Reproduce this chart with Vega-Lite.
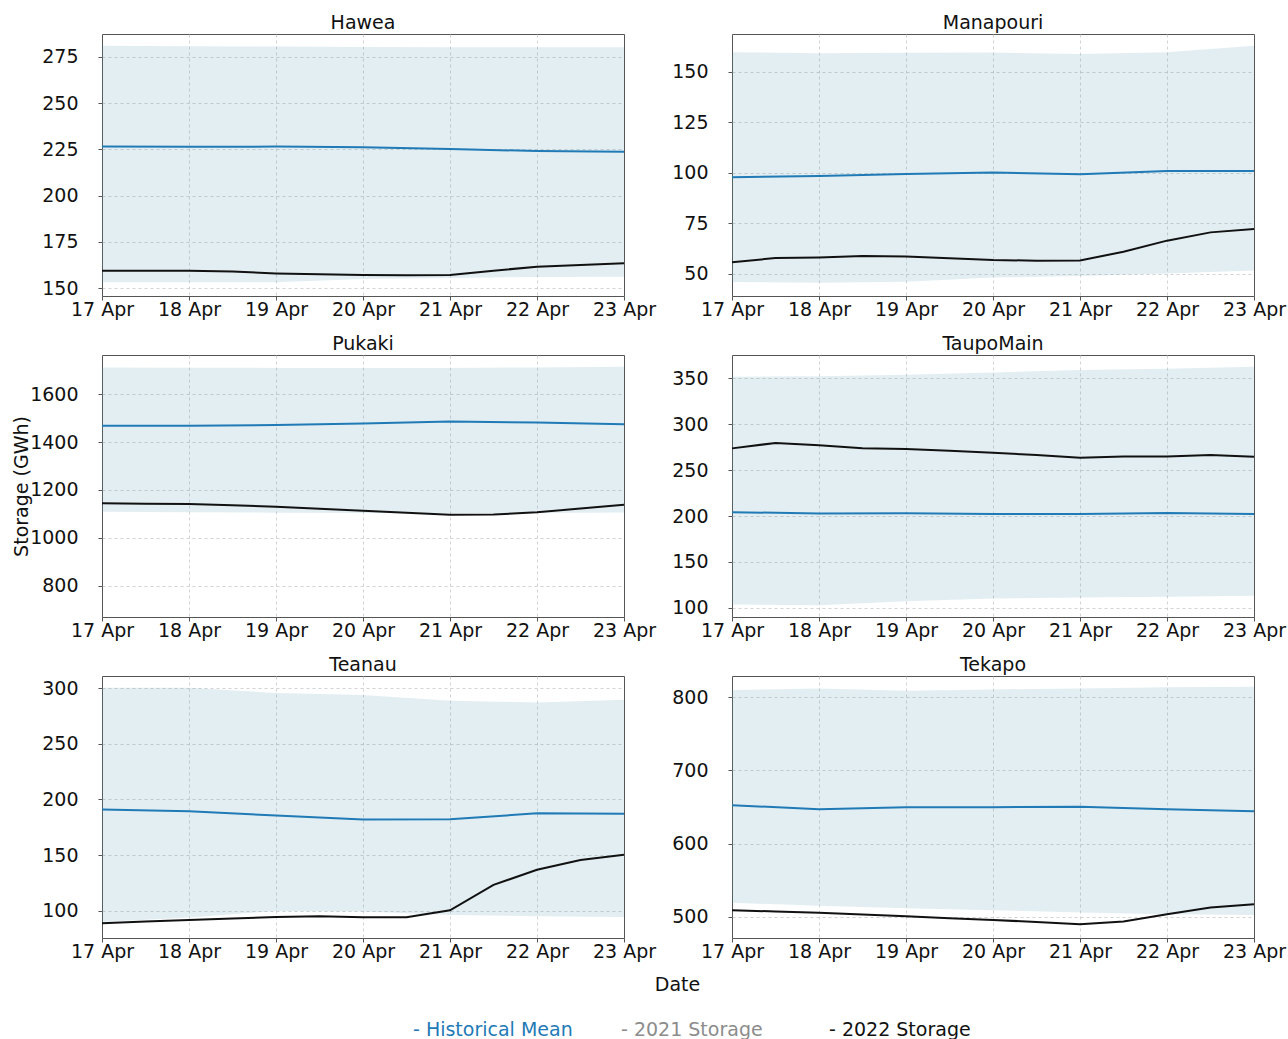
{
  "$schema": "https://vega.github.io/schema/vega-lite/v6.json",
  "padding": {"left": 11, "top": 13, "right": 0, "bottom": 0},
  "background": "white",
  "config": {
    "font": "DejaVu Sans",
    "view": {"stroke": "#555555", "strokeWidth": 1},
    "axis": {"labelFont": "DejaVu Sans", "labelFontSize": 19, "labelColor": "#111111", "tickColor": "#555555", "tickSize": 4, "domain": false, "grid": true, "gridColor": "#c8c8c8", "gridDash": [3, 3], "gridWidth": 0.8, "titleFont": "DejaVu Sans", "titleFontSize": 19, "titleFontWeight": "normal", "titleColor": "#111111", "labelFlush": false, "labelOverlap": false},
    "axisX": {"format": "%d %b", "tickCount": {"interval": "day", "step": 1}, "labelPadding": 0},
    "axisY": {"format": "d", "labelPadding": 20},
    "title": {"font": "DejaVu Sans", "fontSize": 19, "fontWeight": "normal", "color": "#111111", "baseline": "alphabetic", "offset": 1}
  },
  "data": {"values": [
    {"r": "Hawea", "date": "2022-04-17T00:00", "lo": 153.1, "mean": 226.5, "hi": 281.0, "s": 159.4},
    {"r": "Hawea", "date": "2022-04-17T12:00", "s": 159.4},
    {"r": "Hawea", "date": "2022-04-18T00:00", "lo": 153.1, "mean": 226.4, "hi": 280.8, "s": 159.4},
    {"r": "Hawea", "date": "2022-04-18T12:00", "s": 158.9},
    {"r": "Hawea", "date": "2022-04-19T00:00", "lo": 153.2, "mean": 226.5, "hi": 280.6, "s": 157.9},
    {"r": "Hawea", "date": "2022-04-19T12:00", "s": 157.4},
    {"r": "Hawea", "date": "2022-04-20T00:00", "lo": 154.9, "mean": 226.1, "hi": 280.4, "s": 157.0},
    {"r": "Hawea", "date": "2022-04-20T12:00", "s": 156.9},
    {"r": "Hawea", "date": "2022-04-21T00:00", "lo": 155.5, "mean": 225.2, "hi": 280.3, "s": 157.0},
    {"r": "Hawea", "date": "2022-04-21T12:00", "s": 159.4},
    {"r": "Hawea", "date": "2022-04-22T00:00", "lo": 156.0, "mean": 224.1, "hi": 280.2, "s": 161.5},
    {"r": "Hawea", "date": "2022-04-22T12:00", "s": 162.5},
    {"r": "Hawea", "date": "2022-04-23T00:00", "lo": 156.1, "mean": 223.7, "hi": 280.2, "s": 163.4},

    {"r": "Manapouri", "date": "2022-04-17T00:00", "lo": 46.0, "mean": 97.9, "hi": 159.8, "s": 55.8},
    {"r": "Manapouri", "date": "2022-04-17T12:00", "s": 57.9},
    {"r": "Manapouri", "date": "2022-04-18T00:00", "lo": 45.7, "mean": 98.5, "hi": 159.3, "s": 58.2},
    {"r": "Manapouri", "date": "2022-04-18T12:00", "s": 58.9},
    {"r": "Manapouri", "date": "2022-04-19T00:00", "lo": 46.2, "mean": 99.5, "hi": 159.5, "s": 58.7},
    {"r": "Manapouri", "date": "2022-04-19T12:00", "s": 57.8},
    {"r": "Manapouri", "date": "2022-04-20T00:00", "lo": 48.2, "mean": 100.2, "hi": 159.6, "s": 56.9},
    {"r": "Manapouri", "date": "2022-04-20T12:00", "s": 56.6},
    {"r": "Manapouri", "date": "2022-04-21T00:00", "lo": 49.0, "mean": 99.4, "hi": 158.9, "s": 56.7},
    {"r": "Manapouri", "date": "2022-04-21T12:00", "s": 61.0},
    {"r": "Manapouri", "date": "2022-04-22T00:00", "lo": 50.3, "mean": 101.0, "hi": 159.8, "s": 66.5},
    {"r": "Manapouri", "date": "2022-04-22T12:00", "s": 70.6},
    {"r": "Manapouri", "date": "2022-04-23T00:00", "lo": 51.7, "mean": 101.0, "hi": 163.0, "s": 72.3},

    {"r": "Pukaki", "date": "2022-04-17T00:00", "lo": 1109, "mean": 1468, "hi": 1712, "s": 1144},
    {"r": "Pukaki", "date": "2022-04-17T12:00", "s": 1142},
    {"r": "Pukaki", "date": "2022-04-18T00:00", "lo": 1107, "mean": 1468, "hi": 1711, "s": 1141},
    {"r": "Pukaki", "date": "2022-04-18T12:00", "s": 1136},
    {"r": "Pukaki", "date": "2022-04-19T00:00", "lo": 1105, "mean": 1471, "hi": 1710, "s": 1130},
    {"r": "Pukaki", "date": "2022-04-19T12:00", "s": 1121},
    {"r": "Pukaki", "date": "2022-04-20T00:00", "lo": 1104, "mean": 1478, "hi": 1710, "s": 1113},
    {"r": "Pukaki", "date": "2022-04-20T12:00", "s": 1105},
    {"r": "Pukaki", "date": "2022-04-21T00:00", "lo": 1103, "mean": 1486, "hi": 1710, "s": 1096},
    {"r": "Pukaki", "date": "2022-04-21T12:00", "s": 1097},
    {"r": "Pukaki", "date": "2022-04-22T00:00", "lo": 1104, "mean": 1482, "hi": 1712, "s": 1107},
    {"r": "Pukaki", "date": "2022-04-22T12:00", "s": 1122},
    {"r": "Pukaki", "date": "2022-04-23T00:00", "lo": 1106, "mean": 1475, "hi": 1715, "s": 1138},

    {"r": "TaupoMain", "date": "2022-04-17T00:00", "lo": 103.6, "mean": 204.2, "hi": 351.4, "s": 273.6},
    {"r": "TaupoMain", "date": "2022-04-17T12:00", "s": 279.5},
    {"r": "TaupoMain", "date": "2022-04-18T00:00", "lo": 102.9, "mean": 202.7, "hi": 352.2, "s": 276.9},
    {"r": "TaupoMain", "date": "2022-04-18T12:00", "s": 273.6},
    {"r": "TaupoMain", "date": "2022-04-19T00:00", "lo": 107.3, "mean": 202.9, "hi": 353.6, "s": 272.9},
    {"r": "TaupoMain", "date": "2022-04-19T12:00", "s": 271.1},
    {"r": "TaupoMain", "date": "2022-04-20T00:00", "lo": 110.2, "mean": 202.3, "hi": 356.2, "s": 268.9},
    {"r": "TaupoMain", "date": "2022-04-20T12:00", "s": 266.3},
    {"r": "TaupoMain", "date": "2022-04-21T00:00", "lo": 111.3, "mean": 202.3, "hi": 358.8, "s": 263.4},
    {"r": "TaupoMain", "date": "2022-04-21T12:00", "s": 264.8},
    {"r": "TaupoMain", "date": "2022-04-22T00:00", "lo": 112.1, "mean": 203.4, "hi": 360.2, "s": 264.8},
    {"r": "TaupoMain", "date": "2022-04-22T12:00", "s": 266.3},
    {"r": "TaupoMain", "date": "2022-04-23T00:00", "lo": 113.2, "mean": 202.3, "hi": 362.4, "s": 264.4},

    {"r": "Teanau", "date": "2022-04-17T00:00", "lo": 90.1, "mean": 191.0, "hi": 300.3, "s": 88.9},
    {"r": "Teanau", "date": "2022-04-17T12:00", "s": 90.4},
    {"r": "Teanau", "date": "2022-04-18T00:00", "lo": 94.0, "mean": 189.5, "hi": 300.3, "s": 91.9},
    {"r": "Teanau", "date": "2022-04-18T12:00", "s": 93.1},
    {"r": "Teanau", "date": "2022-04-19T00:00", "lo": 100.0, "mean": 185.6, "hi": 295.5, "s": 94.6},
    {"r": "Teanau", "date": "2022-04-19T12:00", "s": 95.2},
    {"r": "Teanau", "date": "2022-04-20T00:00", "lo": 99.4, "mean": 182.0, "hi": 293.7, "s": 94.3},
    {"r": "Teanau", "date": "2022-04-20T12:00", "s": 94.3},
    {"r": "Teanau", "date": "2022-04-21T00:00", "lo": 96.4, "mean": 182.3, "hi": 288.6, "s": 100.6},
    {"r": "Teanau", "date": "2022-04-21T12:00", "s": 123.4},
    {"r": "Teanau", "date": "2022-04-22T00:00", "lo": 95.2, "mean": 187.6, "hi": 287.1, "s": 136.9},
    {"r": "Teanau", "date": "2022-04-22T12:00", "s": 145.6},
    {"r": "Teanau", "date": "2022-04-23T00:00", "lo": 94.6, "mean": 187.1, "hi": 289.5, "s": 150.5},

    {"r": "Tekapo", "date": "2022-04-17T00:00", "lo": 519.2, "mean": 652.5, "hi": 809.6, "s": 509.2},
    {"r": "Tekapo", "date": "2022-04-17T12:00", "s": 507.3},
    {"r": "Tekapo", "date": "2022-04-18T00:00", "lo": 515.1, "mean": 647.0, "hi": 811.9, "s": 505.5},
    {"r": "Tekapo", "date": "2022-04-18T12:00", "s": 503.2},
    {"r": "Tekapo", "date": "2022-04-19T00:00", "lo": 511.9, "mean": 649.7, "hi": 808.6, "s": 501.0},
    {"r": "Tekapo", "date": "2022-04-19T12:00", "s": 498.1},
    {"r": "Tekapo", "date": "2022-04-20T00:00", "lo": 509.2, "mean": 649.7, "hi": 810.5, "s": 495.9},
    {"r": "Tekapo", "date": "2022-04-20T12:00", "s": 493.0},
    {"r": "Tekapo", "date": "2022-04-21T00:00", "lo": 505.9, "mean": 650.3, "hi": 811.9, "s": 490.0},
    {"r": "Tekapo", "date": "2022-04-21T12:00", "s": 493.6},
    {"r": "Tekapo", "date": "2022-04-22T00:00", "lo": 503.7, "mean": 647.0, "hi": 813.3, "s": 503.7},
    {"r": "Tekapo", "date": "2022-04-22T12:00", "s": 512.7},
    {"r": "Tekapo", "date": "2022-04-23T00:00", "lo": 502.7, "mean": 644.3, "hi": 814.1, "s": 517.4}
  ]},
  "columns": 2,
  "spacing": {"row": 59, "column": 108},
  "bounds": "flush",
  "concat": [
    {"title": "Hawea", "width": 522, "height": 262,
     "transform": [{"filter": "datum.r === 'Hawea'"}],
     "encoding": {"x": {"field": "date", "type": "temporal", "title": null, "scale": {"domain": [{"year": 2022, "month": 4, "date": 17}, {"year": 2022, "month": 4, "date": 23}]}, "axis": {"gridColor": {"condition": {"test": "datum.value <= datetime(2022, 3, 17) || datum.value >= datetime(2022, 3, 23)", "value": "transparent"}, "value": "#c8c8c8"}}}},
     "layer": [
       {"transform": [{"filter": "isValid(datum.lo)"}], "mark": {"type": "area", "color": "#5a9bb3", "opacity": 0.17}, "encoding": {"y": {"field": "lo", "type": "quantitative", "title": null, "scale": {"domain": [145.7, 287.4], "nice": false, "zero": false}, "axis": {"values": [150, 175, 200, 225, 250, 275]}}, "y2": {"field": "hi"}}},
       {"transform": [{"filter": "isValid(datum.mean)"}], "mark": {"type": "line", "strokeWidth": 2}, "encoding": {"y": {"field": "mean", "type": "quantitative", "title": null}, "color": {"datum": "Historical Mean", "type": "nominal", "scale": {"domain": ["Historical Mean", "2021 Storage", "2022 Storage"], "range": ["#1f7ab6", "#8c8c8c", "#111111"]}, "legend": {"title": null, "orient": "none", "legendX": 292, "legendY": 986, "direction": "horizontal", "columns": 3, "gridAlign": "all", "columnPadding": 29, "symbolSize": 0, "symbolStrokeWidth": 0, "symbolOpacity": 0, "labelOffset": 0, "labelFont": "DejaVu Sans", "labelFontSize": 19, "labelLimit": 400, "labelExpr": "'- ' + datum.label", "encode": {"labels": {"update": {"fill": {"scale": "color", "field": "value"}}}}}}}},
       {"transform": [{"filter": "isValid(datum.s)"}], "mark": {"type": "line", "strokeWidth": 2}, "encoding": {"y": {"field": "s", "type": "quantitative", "title": null}, "color": {"datum": "2022 Storage", "type": "nominal", "scale": {"domain": ["Historical Mean", "2021 Storage", "2022 Storage"], "range": ["#1f7ab6", "#8c8c8c", "#111111"]}}}}
     ]},
    {"title": "Manapouri", "width": 522, "height": 262,
     "transform": [{"filter": "datum.r === 'Manapouri'"}],
     "encoding": {"x": {"field": "date", "type": "temporal", "title": null, "scale": {"domain": [{"year": 2022, "month": 4, "date": 17}, {"year": 2022, "month": 4, "date": 23}]}, "axis": {"gridColor": {"condition": {"test": "datum.value <= datetime(2022, 3, 17) || datum.value >= datetime(2022, 3, 23)", "value": "transparent"}, "value": "#c8c8c8"}}}},
     "layer": [
       {"transform": [{"filter": "isValid(datum.lo)"}], "mark": {"type": "area", "color": "#5a9bb3", "opacity": 0.17}, "encoding": {"y": {"field": "lo", "type": "quantitative", "title": null, "scale": {"domain": [39.1, 168.8], "nice": false, "zero": false}, "axis": {"values": [50, 75, 100, 125, 150]}}, "y2": {"field": "hi"}}},
       {"transform": [{"filter": "isValid(datum.mean)"}], "mark": {"type": "line", "strokeWidth": 2}, "encoding": {"y": {"field": "mean", "type": "quantitative", "title": null}, "color": {"datum": "Historical Mean", "type": "nominal", "scale": {"domain": ["Historical Mean", "2021 Storage", "2022 Storage"], "range": ["#1f7ab6", "#8c8c8c", "#111111"]}}}},
       {"transform": [{"filter": "isValid(datum.s)"}], "mark": {"type": "line", "strokeWidth": 2}, "encoding": {"y": {"field": "s", "type": "quantitative", "title": null}, "color": {"datum": "2022 Storage", "type": "nominal", "scale": {"domain": ["Historical Mean", "2021 Storage", "2022 Storage"], "range": ["#1f7ab6", "#8c8c8c", "#111111"]}}}}
     ]},
    {"title": "Pukaki", "width": 522, "height": 262,
     "transform": [{"filter": "datum.r === 'Pukaki'"}],
     "encoding": {"x": {"field": "date", "type": "temporal", "title": null, "scale": {"domain": [{"year": 2022, "month": 4, "date": 17}, {"year": 2022, "month": 4, "date": 23}]}, "axis": {"gridColor": {"condition": {"test": "datum.value <= datetime(2022, 3, 17) || datum.value >= datetime(2022, 3, 23)", "value": "transparent"}, "value": "#c8c8c8"}}}},
     "layer": [
       {"transform": [{"filter": "isValid(datum.lo)"}], "mark": {"type": "area", "color": "#5a9bb3", "opacity": 0.17}, "encoding": {"y": {"field": "lo", "type": "quantitative", "title": "Storage (GWh)", "scale": {"domain": [669, 1764], "nice": false, "zero": false}, "axis": {"values": [800, 1000, 1200, 1400, 1600], "titleX": -81, "titleY": 131, "titleBaseline": "middle", "titleAlign": "center"}}, "y2": {"field": "hi"}}},
       {"transform": [{"filter": "isValid(datum.mean)"}], "mark": {"type": "line", "strokeWidth": 2}, "encoding": {"y": {"field": "mean", "type": "quantitative", "title": "Storage (GWh)"}, "color": {"datum": "Historical Mean", "type": "nominal", "scale": {"domain": ["Historical Mean", "2021 Storage", "2022 Storage"], "range": ["#1f7ab6", "#8c8c8c", "#111111"]}}}},
       {"transform": [{"filter": "isValid(datum.s)"}], "mark": {"type": "line", "strokeWidth": 2}, "encoding": {"y": {"field": "s", "type": "quantitative", "title": "Storage (GWh)"}, "color": {"datum": "2022 Storage", "type": "nominal", "scale": {"domain": ["Historical Mean", "2021 Storage", "2022 Storage"], "range": ["#1f7ab6", "#8c8c8c", "#111111"]}}}}
     ]},
    {"title": "TaupoMain", "width": 522, "height": 262,
     "transform": [{"filter": "datum.r === 'TaupoMain'"}],
     "encoding": {"x": {"field": "date", "type": "temporal", "title": null, "scale": {"domain": [{"year": 2022, "month": 4, "date": 17}, {"year": 2022, "month": 4, "date": 23}]}, "axis": {"gridColor": {"condition": {"test": "datum.value <= datetime(2022, 3, 17) || datum.value >= datetime(2022, 3, 23)", "value": "transparent"}, "value": "#c8c8c8"}}}},
     "layer": [
       {"transform": [{"filter": "isValid(datum.lo)"}], "mark": {"type": "area", "color": "#5a9bb3", "opacity": 0.17}, "encoding": {"y": {"field": "lo", "type": "quantitative", "title": null, "scale": {"domain": [90.1, 375.2], "nice": false, "zero": false}, "axis": {"values": [100, 150, 200, 250, 300, 350]}}, "y2": {"field": "hi"}}},
       {"transform": [{"filter": "isValid(datum.mean)"}], "mark": {"type": "line", "strokeWidth": 2}, "encoding": {"y": {"field": "mean", "type": "quantitative", "title": null}, "color": {"datum": "Historical Mean", "type": "nominal", "scale": {"domain": ["Historical Mean", "2021 Storage", "2022 Storage"], "range": ["#1f7ab6", "#8c8c8c", "#111111"]}}}},
       {"transform": [{"filter": "isValid(datum.s)"}], "mark": {"type": "line", "strokeWidth": 2}, "encoding": {"y": {"field": "s", "type": "quantitative", "title": null}, "color": {"datum": "2022 Storage", "type": "nominal", "scale": {"domain": ["Historical Mean", "2021 Storage", "2022 Storage"], "range": ["#1f7ab6", "#8c8c8c", "#111111"]}}}}
     ]},
    {"title": "Teanau", "width": 522, "height": 262,
     "transform": [{"filter": "datum.r === 'Teanau'"}],
     "encoding": {"x": {"field": "date", "type": "temporal", "title": "Date", "scale": {"domain": [{"year": 2022, "month": 4, "date": 17}, {"year": 2022, "month": 4, "date": 23}]}, "axis": {"titleX": 575, "titleY": 46, "titleBaseline": "middle", "titleAlign": "center", "gridColor": {"condition": {"test": "datum.value <= datetime(2022, 3, 17) || datum.value >= datetime(2022, 3, 23)", "value": "transparent"}, "value": "#c8c8c8"}}}},
     "layer": [
       {"transform": [{"filter": "isValid(datum.lo)"}], "mark": {"type": "area", "color": "#5a9bb3", "opacity": 0.17}, "encoding": {"y": {"field": "lo", "type": "quantitative", "title": null, "scale": {"domain": [75.7, 310.8], "nice": false, "zero": false}, "axis": {"values": [100, 150, 200, 250, 300]}}, "y2": {"field": "hi"}}},
       {"transform": [{"filter": "isValid(datum.mean)"}], "mark": {"type": "line", "strokeWidth": 2}, "encoding": {"y": {"field": "mean", "type": "quantitative", "title": null}, "color": {"datum": "Historical Mean", "type": "nominal", "scale": {"domain": ["Historical Mean", "2021 Storage", "2022 Storage"], "range": ["#1f7ab6", "#8c8c8c", "#111111"]}}}},
       {"transform": [{"filter": "isValid(datum.s)"}], "mark": {"type": "line", "strokeWidth": 2}, "encoding": {"y": {"field": "s", "type": "quantitative", "title": null}, "color": {"datum": "2022 Storage", "type": "nominal", "scale": {"domain": ["Historical Mean", "2021 Storage", "2022 Storage"], "range": ["#1f7ab6", "#8c8c8c", "#111111"]}}}}
     ]},
    {"title": "Tekapo", "width": 522, "height": 262,
     "transform": [{"filter": "datum.r === 'Tekapo'"}],
     "encoding": {"x": {"field": "date", "type": "temporal", "title": null, "scale": {"domain": [{"year": 2022, "month": 4, "date": 17}, {"year": 2022, "month": 4, "date": 23}]}, "axis": {"gridColor": {"condition": {"test": "datum.value <= datetime(2022, 3, 17) || datum.value >= datetime(2022, 3, 23)", "value": "transparent"}, "value": "#c8c8c8"}}}},
     "layer": [
       {"transform": [{"filter": "isValid(datum.lo)"}], "mark": {"type": "area", "color": "#5a9bb3", "opacity": 0.17}, "encoding": {"y": {"field": "lo", "type": "quantitative", "title": null, "scale": {"domain": [471.2, 828.8], "nice": false, "zero": false}, "axis": {"values": [500, 600, 700, 800]}}, "y2": {"field": "hi"}}},
       {"transform": [{"filter": "isValid(datum.mean)"}], "mark": {"type": "line", "strokeWidth": 2}, "encoding": {"y": {"field": "mean", "type": "quantitative", "title": null}, "color": {"datum": "Historical Mean", "type": "nominal", "scale": {"domain": ["Historical Mean", "2021 Storage", "2022 Storage"], "range": ["#1f7ab6", "#8c8c8c", "#111111"]}}}},
       {"transform": [{"filter": "isValid(datum.s)"}], "mark": {"type": "line", "strokeWidth": 2}, "encoding": {"y": {"field": "s", "type": "quantitative", "title": null}, "color": {"datum": "2022 Storage", "type": "nominal", "scale": {"domain": ["Historical Mean", "2021 Storage", "2022 Storage"], "range": ["#1f7ab6", "#8c8c8c", "#111111"]}}}}
     ]}
  ]
}
